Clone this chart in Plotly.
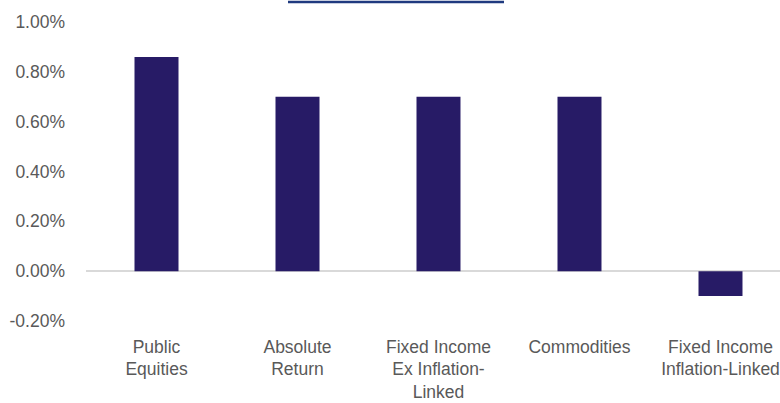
import plotly.graph_objects as go

categories = ["Public<br>Equities", "Absolute<br>Return", "Fixed Income<br>Ex Inflation-<br>Linked",
              "Commodities", "Fixed Income<br>Inflation-Linked"]
values = [0.86, 0.70, 0.70, 0.70, -0.10]
y_ticks = [-0.2, 0.0, 0.2, 0.4, 0.6, 0.8, 1.0]
y_tick_text = ["-0.20%", "0.00%", "0.20%", "0.40%", "0.60%", "0.80%", "1.00%"]

BAR = "#271b66"
TXT = "#595959"
FONT = "Liberation Sans, Arial, sans-serif"

fig = go.Figure(go.Bar(x=list(range(len(categories))), y=values, marker_color=BAR,
                       marker_line_width=0, hoverinfo="skip"))

fig.update_layout(
    width=780, height=403,
    margin=dict(l=86, r=0, t=22, b=82),
    paper_bgcolor="white", plot_bgcolor="white",
    bargap=0.688,
    showlegend=False,
    font=dict(family=FONT, color=TXT),
)
fig.update_xaxes(
    tickmode="array", tickvals=list(range(len(categories))), ticktext=categories,
    range=[-0.5, 4.422], tickangle=0, showgrid=False, showline=False, ticks="",
    tickfont=dict(size=17.5, color=TXT, family=FONT), ticklabelstandoff=13,
)
fig.update_yaxes(
    range=[-0.2, 1.0], tickvals=y_ticks, ticktext=y_tick_text,
    showgrid=False, showline=False, ticks="",
    zeroline=True, zerolinecolor="#d9d9d9", zerolinewidth=2,
    tickfont=dict(size=17.5, color=TXT, family=FONT), ticklabelstandoff=20,
)
# cropped title underline at the top
fig.add_shape(type="line", xref="paper", yref="paper",
              x0=(288 - 86) / 694, x1=(504 - 86) / 694, y0=1 + 20 / 299, y1=1 + 20 / 299,
              line=dict(color="#1f3a7f", width=2.5))

fig.write_html("out.html", config={"displayModeBar": False},
               post_script="document.body.style.margin='0';")
